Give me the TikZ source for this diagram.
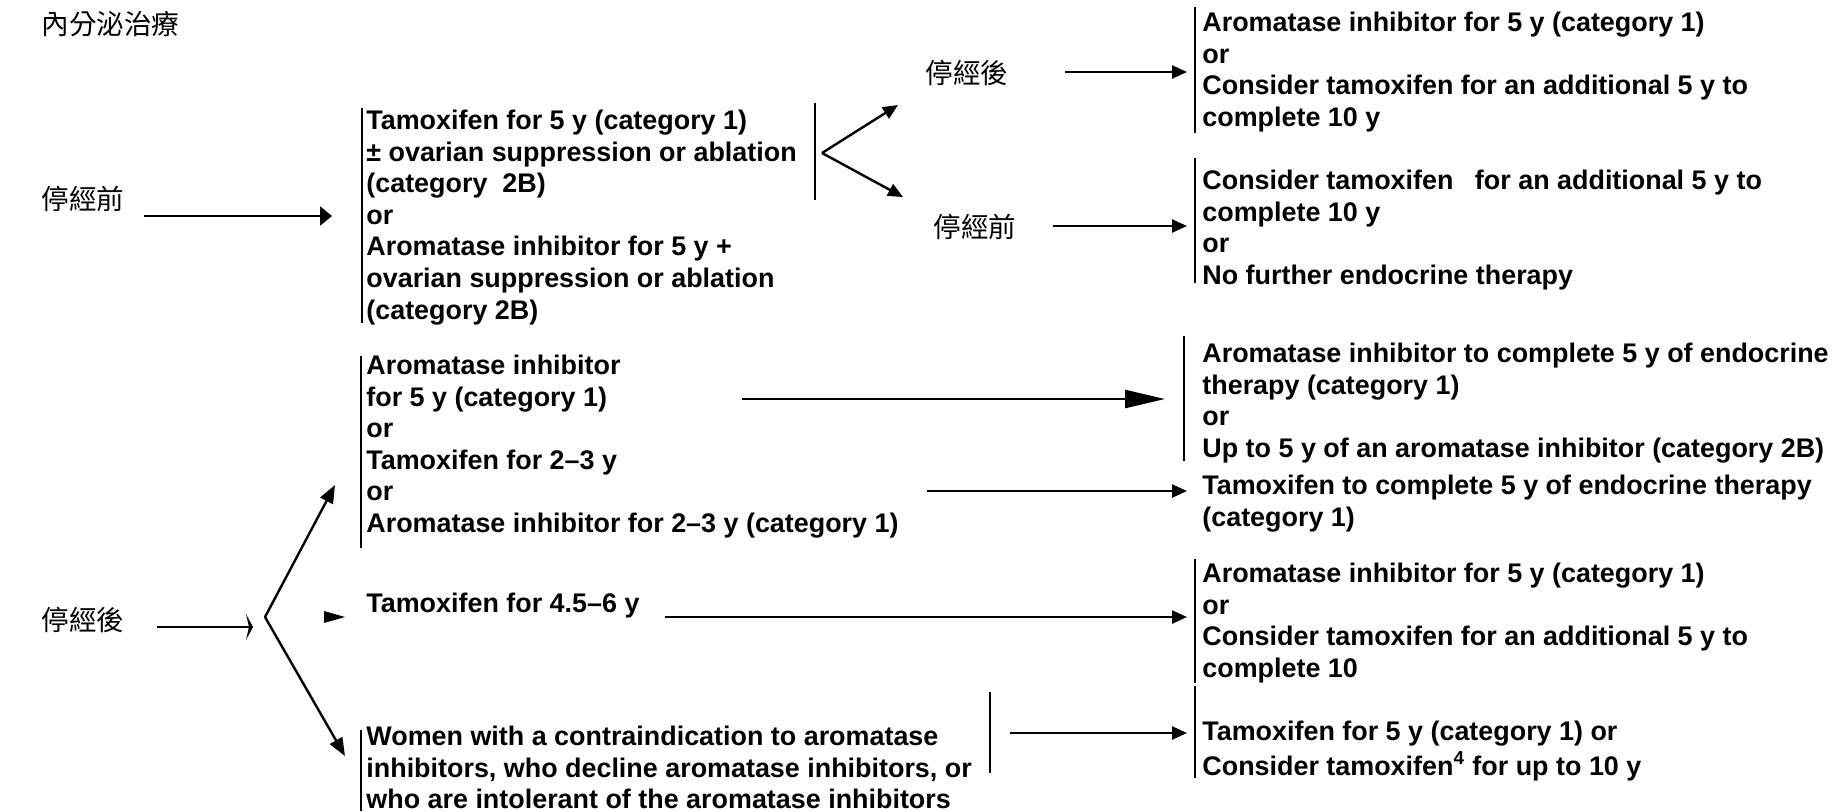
\documentclass[tikz,border=0pt]{standalone}
\usepackage{fontspec}
\setmainfont{Liberation Sans}
\newfontfamily\cjk{Noto Sans CJK TC}
\usetikzlibrary{arrows.meta}
\begin{document}
\begin{tikzpicture}[x=0.5pt,y=-0.5pt,
  txt/.style={font=\fontsize{13.45pt}{15.8pt}\selectfont\bfseries, align=left, inner sep=0pt, anchor=north west},
  cjklab/.style={font=\fontsize{13.8pt}{16pt}\selectfont\cjk, inner sep=0pt, anchor=west},
  bar/.style={line width=1pt},
  conn/.style={line width=1.2pt},
  headM/.style={conn,-{Triangle[length=6pt,width=9.5pt]}},
  headS/.style={conn,-{Triangle[length=7.5pt,width=6.5pt]}},
  headL/.style={conn,-{Triangle[length=20pt,width=9pt]}},
  headN/.style={conn,-{Stealth[length=3.5pt,width=13pt,inset=1.5pt]}},
  headD/.style={conn,-{Triangle[length=9pt,width=7pt]}}
]
\useasboundingbox (0,0) rectangle (1841,811);

% labels
\node[cjklab] (title) at (41,24) {內分泌治療};
\node[cjklab] (pre) at (41,199) {停經前};
\node[cjklab] (postTR) at (925,73) {停經後};
\node[cjklab] (preTR) at (933,227) {停經前};
\node[cjklab] (post) at (41,620) {停經後};

% text blocks
\node[txt] (b1) at (366,107) {\strut Tamoxifen for 5 y (category 1)\\
\strut ± ovarian suppression or ablation\\
\strut (category\ \ 2B)\\
\strut or\\
\strut Aromatase inhibitor for 5 y +\\
\strut ovarian suppression or ablation\\
\strut (category 2B)};

\node[txt] (tr1) at (1202,9) {\strut Aromatase inhibitor for 5 y (category 1)\\
\strut or\\
\strut Consider tamoxifen for an additional 5 y to\\
\strut complete 10 y};

\node[txt] (tr2) at (1202,167) {\strut Consider tamoxifen\hspace{7pt} for an additional 5 y to\\
\strut complete 10 y\\
\strut or\\
\strut No further endocrine therapy};

\node[txt] (b3) at (366,352) {\strut Aromatase inhibitor\\
\strut for 5 y (category 1)\\
\strut or\\
\strut Tamoxifen for 2–3 y\\
\strut or\\
\strut Aromatase inhibitor for 2–3 y (category 1)};

\node[txt] (b4) at (1202,340) {\strut Aromatase inhibitor to complete 5 y of endocrine\\
\strut therapy (category 1)\\
\strut or\\
\strut Up to 5 y of an aromatase inhibitor (category 2B)};

\node[txt] (b4b) at (1202,472) {\strut Tamoxifen to complete 5 y of endocrine therapy\\
\strut (category 1)};

\node[txt] (t45) at (366,590) {\strut Tamoxifen for 4.5–6 y};

\node[txt] (b6) at (1202,560) {\strut Aromatase inhibitor for 5 y (category 1)\\
\strut or\\
\strut Consider tamoxifen for an additional 5 y to\\
\strut complete 10};

\node[txt] (b5) at (366,723) {\strut Women with a contraindication to aromatase\\
\strut inhibitors, who decline aromatase inhibitors, or\\
\strut who are intolerant of the aromatase inhibitors};

\node[txt] (b7) at (1202,718) {\strut Tamoxifen for 5 y (category 1) or\\
\strut Consider tamoxifen\textsuperscript{4} for up to 10 y};

% bars
\draw[bar] (362,108) -- (362,323);
\draw[bar] (815,103) -- (815,200);
\draw[bar] (1195,7) -- (1195,133);
\draw[bar] (1195,158) -- (1195,283);
\draw[bar] (361,356) -- (361,548);
\draw[bar] (1184,336) -- (1184,461);
\draw[bar] (1195,559) -- (1195,683);
\draw[bar] (1195,686) -- (1195,778);
\draw[bar] (361,730) -- (361,811);
\draw[bar] (990,692) -- (990,773);

% coordinates
\coordinate (a1s) at (144,216);
\coordinate (a1e) at (332,216);
\coordinate (apex1) at (822,153);
\coordinate (up1) at (898,105);
\coordinate (dn1) at (903,197);
\coordinate (a3s) at (1065,72);
\coordinate (a3e) at (1187,72);
\coordinate (a4s) at (1053,226);
\coordinate (a4e) at (1187,226);
\coordinate (a5s) at (742,399);
\coordinate (a5e) at (1165,399);
\coordinate (a6s) at (927,491);
\coordinate (a6e) at (1187,491);
\coordinate (a7s) at (157,627);
\coordinate (a7e) at (253,627);
\coordinate (apex2) at (265,617);
\coordinate (up2) at (335,485);
\coordinate (dn2) at (345,756);
\coordinate (a10s) at (665,617);
\coordinate (a10e) at (1187,617);
\coordinate (a11s) at (1010,733);
\coordinate (a11e) at (1187,733);

% connectors
\draw[headM] (a1s) -- (a1e);
\draw[headS] (apex1) -- (up1);
\draw[headS] (apex1) -- (dn1);
\draw[headS] (a3s) -- (a3e);
\draw[headS] (a4s) -- (a4e);
\draw[headL] (a5s) -- (a5e);
\draw[headS] (a6s) -- (a6e);
\draw[headN] (a7s) -- (a7e);
\draw[headD] (apex2) -- (up2);
\draw[headD] (apex2) -- (dn2);
\fill (324,611) -- (345,617) -- (324,623) -- cycle;
\draw[headS] (a10s) -- (a10e);
\draw[headS] (a11s) -- (a11e);
\end{tikzpicture}
\end{document}
